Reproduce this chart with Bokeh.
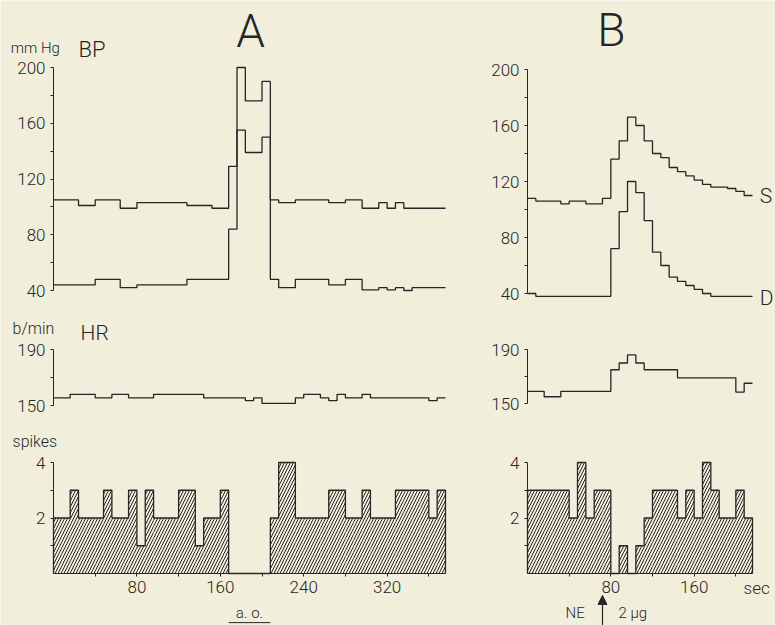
from bokeh.plotting import figure
from bokeh.models import (FixedTicker, Label, Arrow, NormalHead, Range1d,
                          LinearAxis)
from bokeh.embed import file_html
from bokeh.resources import INLINE

BG = "#f1efdc"
INK = "#262626"
FONT = "Roboto Light"
THIN = "Roboto Light"
BIN = 8  # seconds per bin

# ---------------- Panel A (aortic occlusion) ----------------
a_sys_edges = [0, 24, 40, 64, 80, 128, 152, 168, 176, 184, 200, 208, 216, 232, 264, 280, 296, 312, 320, 328, 336, 376]
a_sys = [105, 101, 105, 99, 103, 101, 99, 129, 200, 176, 190, 105, 103, 105, 103, 105, 99, 103, 99, 103, 99]
a_dia_edges = [0, 40, 64, 80, 128, 168, 176, 184, 200, 208, 216, 232, 264, 280, 296, 312, 320, 328, 336, 344, 376]
a_dia = [44, 48, 42, 44, 48, 84, 155, 139, 150, 48, 42, 48, 44, 48, 40.5, 42, 40.5, 42, 40, 42]
a_hr_edges = [0, 16, 40, 56, 72, 96, 144, 184, 192, 200, 232, 240, 256, 264, 272, 280, 296, 304, 360, 368, 376]
a_hr = [155.5, 158, 155.5, 158, 155.5, 158, 155.5, 153.5, 155.5, 151.5, 155.5, 158, 155.5, 153.5, 158, 155.5, 158, 155.5, 153.5, 155.5]
a_spikes = [2, 2, 3, 2, 2, 2, 3, 2, 2, 3, 1, 3, 2, 2, 2, 3, 3, 1, 2, 2, 3,
            0, 0, 0, 0, 0, 2, 4, 4, 2, 2, 2, 2, 3, 3, 2, 2, 3, 2, 2, 2, 3, 3, 3, 3, 2, 3]
ao_period = [168, 208]
a_xticks = [80, 160, 240, 320]
a_xminor = [40, 120, 200, 280, 360]

# ---------------- Panel B (norepinephrine) ----------------
b_sys_edges = [0, 8, 32, 40, 56, 72, 80, 88, 96, 104, 112, 120, 128, 136, 144, 152, 160, 168, 176, 192, 200, 208, 216]
b_sys = [108, 106, 104, 106, 104, 108, 136, 149, 166, 160, 149, 140, 137, 130, 127, 124, 121, 118, 116, 115, 113, 110]
b_dia_edges = [0, 8, 80, 88, 96, 104, 112, 120, 128, 136, 144, 152, 160, 168, 176, 216]
b_dia = [40, 38, 72, 98.5, 120, 112, 92, 69.5, 60, 51.7, 48.6, 45.7, 43, 40, 38]
b_hr_edges = [0, 16, 32, 80, 88, 96, 104, 112, 144, 200, 208, 216]
b_hr = [159, 155, 159, 175, 180, 186, 180, 175, 169, 158.5, 165]
b_spikes = [3, 3, 3, 3, 3, 2, 4, 2, 3, 3, 0, 1, 0, 1, 2, 3, 3, 3, 2, 3, 2, 4, 3, 2, 2, 3, 2]
ne_time = 72
b_xticks = [80, 160]
b_xminor = [40, 120, 200]

bp_ticks, bp_minor = [40, 80, 120, 160, 200], [60, 100, 140, 180]
hr_ticks, hr_minor = [150, 190], [170]
sp_ticks, sp_minor = [2, 4], [1, 3]

# ---------------- canvas geometry (pixels) ----------------
W, H = 775, 625


def x_range(v0, p0, v1, p1):
    k = (p1 - p0) / (v1 - v0)
    start = v0 - p0 / k
    return Range1d(start, start + W / k)


def y_range(v0, p0, v1, p1):
    # p measured from the top of the picture
    b0, b1 = H - p0, H - p1
    k = (b1 - b0) / (v1 - v0)
    start = v0 - b0 / k
    return Range1d(start, start + H / k)


A_END = a_sys_edges[-1]
B_END = b_sys_edges[-1]

p = figure(width=W, height=H, x_range=(0, 1), y_range=(0, 1), title=None,
           toolbar_location=None, output_backend="svg",
           x_axis_location=None, y_axis_location=None,
           min_border_left=0, min_border_right=0,
           min_border_top=0, min_border_bottom=0)
p.background_fill_color = BG
p.border_fill_color = BG
p.outline_line_color = None
p.grid.visible = False

p.extra_x_ranges = {
    "ax": x_range(0, 53, A_END, 445),
    "bx": x_range(0, 527, B_END, 752),
}
p.extra_y_ranges = {
    "a_bp": y_range(40, 290, 200, 67),
    "b_bp": y_range(40, 293, 200, 69),
    "a_hr": y_range(150, 405, 190, 349),
    "b_hr": y_range(150, 403, 190, 349),
    "a_sp": y_range(0, 573, 4, 462),
    "b_sp": y_range(0, 573, 4, 462),
}


def style_axis(ax, ticks, minor):
    ax.ticker = FixedTicker(ticks=ticks, minor_ticks=minor)
    ax.axis_line_color = INK
    ax.axis_line_width = 1
    ax.major_tick_line_color = INK
    ax.minor_tick_line_color = INK
    ax.major_tick_in = 0
    ax.major_tick_out = 3
    ax.minor_tick_in = 0
    ax.minor_tick_out = 3
    ax.major_label_text_font = FONT
    ax.major_label_text_font_size = "17px"
    ax.major_label_text_color = INK
    ax.major_label_standoff = 5


def yaxis(xr, yr, ticks, minor, low):
    ax = LinearAxis(x_range_name=xr, y_range_name=yr, fixed_location=0,
                    bounds=(low, max(ticks)))
    style_axis(ax, ticks, minor)
    p.add_layout(ax, "left")


def xaxis(xr, yr, ticks, minor, end):
    ax = LinearAxis(x_range_name=xr, y_range_name=yr, fixed_location=0,
                    bounds=(0, end))
    style_axis(ax, ticks, minor)
    ax.major_label_standoff = 4
    p.add_layout(ax, "below")


def step_line(xr, yr, edges, vals):
    xs = list(edges)
    ys = list(vals) + [vals[-1]]
    p.step(xs, ys, mode="after", line_color=INK, line_width=1.3,
           x_range_name=xr, y_range_name=yr)


def spike_hist(xr, yr, counts):
    centers = [BIN * i + BIN / 2 for i in range(len(counts))]
    p.vbar(x=centers, width=BIN, top=counts, bottom=0, fill_color=None,
           line_color=None, hatch_pattern="/", hatch_color=INK,
           hatch_scale=6, hatch_weight=1, x_range_name=xr, y_range_name=yr)
    edges = [BIN * i for i in range(len(counts) + 1)]
    xs = [0] + edges + [edges[-1]]
    ys = [0] + list(counts) + [counts[-1], 0]
    p.step(xs, ys, mode="after", line_color=INK, line_width=1.3,
           x_range_name=xr, y_range_name=yr)


def lab(xr, yr, x, y, text, size, align="left", baseline="middle", font=FONT):
    p.add_layout(Label(x=x, y=y, text=text, text_font=font, text_font_size=size,
                       text_align=align, text_baseline=baseline, text_color=INK,
                       x_range_name=xr, y_range_name=yr))


# ---- A: BP ----
yaxis("ax", "a_bp", bp_ticks, bp_minor, 40)
step_line("ax", "a_bp", a_sys_edges, a_sys)
step_line("ax", "a_bp", a_dia_edges, a_dia)
lab("ax", "a_bp", 189, 226.5, "A", "46px", "center", font=THIN)
lab("ax", "a_bp", -41, 214, "mm Hg", "15px")
lab("ax", "a_bp", 24, 213, "BP", "22px", font=THIN)

# ---- A: HR ----
yaxis("ax", "a_hr", hr_ticks, hr_minor, 150)
step_line("ax", "a_hr", a_hr_edges, a_hr)
lab("ax", "a_hr", -39.3, 205, "b/min", "16px")
lab("ax", "a_hr", 26, 202, "HR", "21px", font=THIN)

# ---- A: spikes ----
yaxis("ax", "a_sp", sp_ticks, sp_minor, 0)
xaxis("ax", "a_sp", a_xticks, a_xminor, A_END)
spike_hist("ax", "a_sp", a_spikes)
lab("ax", "a_sp", -39.3, 4.76, "spikes", "16px")
lab("ax", "a_sp", (ao_period[0] + ao_period[1]) / 2, -1.44, "a. o.", "15px", "center")
p.add_layout(Arrow(start=None, end=None, x_start=ao_period[0], y_start=-1.77,
                   x_end=ao_period[1], y_end=-1.77, line_color=INK, line_width=1,
                   x_range_name="ax", y_range_name="a_sp"))

# ---- B: BP ----
yaxis("bx", "b_bp", bp_ticks, bp_minor, 40)
step_line("bx", "b_bp", b_sys_edges, b_sys)
step_line("bx", "b_bp", b_dia_edges, b_dia)
lab("bx", "b_bp", 80.6, 228, "B", "46px", "center", font=THIN)
lab("bx", "b_bp", 223, 110, "S", "21px", font=THIN)
lab("bx", "b_bp", 223, 37.1, "D", "21px", font=THIN)

# ---- B: HR ----
yaxis("bx", "b_hr", hr_ticks, hr_minor, 150)
step_line("bx", "b_hr", b_hr_edges, b_hr)

# ---- B: spikes ----
yaxis("bx", "b_sp", sp_ticks, sp_minor, 0)
xaxis("bx", "b_sp", b_xticks, b_xminor, B_END)
spike_hist("bx", "b_sp", b_spikes)
lab("bx", "b_sp", 207.4, -0.54, "sec", "17px")
lab("bx", "b_sp", 36.5, -1.44, "NE", "15px")
lab("bx", "b_sp", 87.4, -1.44, "2 µg", "15px")
p.add_layout(Arrow(end=NormalHead(size=9, fill_color=INK, line_color=INK),
                   x_start=ne_time, y_start=-1.87, x_end=ne_time, y_end=-0.79,
                   line_color=INK, line_width=1.2,
                   x_range_name="bx", y_range_name="b_sp"))

open("out.html", "w").write(file_html(p, INLINE))
